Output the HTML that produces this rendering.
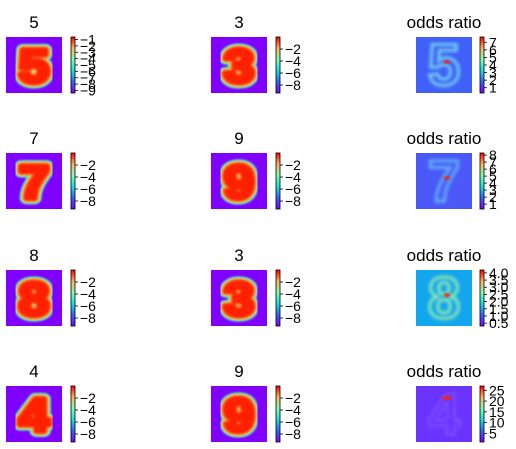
<!DOCTYPE html>
<html><head><meta charset="utf-8">
<style>
body{margin:0;background:#fff;width:516px;height:449px;overflow:hidden;font-family:"Liberation Sans","DejaVu Sans",sans-serif;}
svg{display:block}
</style></head>
<body>
<svg id="fig" width="516" height="449" xmlns="http://www.w3.org/2000/svg">
<defs>
<linearGradient id="rb" x1="0" y1="1" x2="0" y2="0">
<stop offset="0" stop-color="#8000ff"/><stop offset="0.2" stop-color="#3366fa"/>
<stop offset="0.4" stop-color="#19e0e3"/><stop offset="0.6" stop-color="#7ffdb4"/>
<stop offset="0.8" stop-color="#ffb35f"/><stop offset="1" stop-color="#ff0000"/>
</linearGradient>
<filter id="bl"><feGaussianBlur stdDeviation="1.0"/></filter>
<filter id="bl2"><feGaussianBlur stdDeviation="1.6"/></filter>
<clipPath id="cp"><rect x="0" y="0" width="56" height="56"/></clipPath>
</defs>
</svg>
<script>
const rowTop=[37,153,270,386];
const colX=[6,211,416];
const digitTitles=[["5","3"],["7","9"],["8","3"],["4","9"]];
const digitTicks=[[-1,-2,-3,-4,-5,-6,-7,-8,-9],[-2,-4,-6,-8]];
const digitRange=[[-9.4,-0.6],[-9.33,0]];
const oddsTicks=[[7,6,5,4,3,2,1],[8,7,6,5,4,3,2,1],["4.0","3.5","3.0","2.5","2.0","1.5","1.0","0.5"],[25,20,15,10,5]];
const oddsRange=[[0.3,7.7],[0.3,8.3],[0.3,4.2],[1,27]];
const oddsBg=["#4060f8","#4a58f8","#12a6ee","#6a34fe"];
const oddsPat=["#70d0f0","#60b0f5","#90e8b0","#7848fe"];
const svg=document.getElementById('fig');
const NS="http://www.w3.org/2000/svg";
function el(t,a,p){const e=document.createElementNS(NS,t);for(const k in a)e.setAttribute(k,a[k]);(p||svg).appendChild(e);return e;}
const S=56;
function colorbar(x,y,ticks,range){
  const g=el('g',{});
  
  
  el('rect',{x:x,y:y,width:4,height:S,fill:'url(#rb)',stroke:'#000','stroke-width':0.8},g);
  ticks.forEach(t=>{
    const v=parseFloat(t);
    const ty=y+S-(v-range[0])/(range[1]-range[0])*S;
    el('line',{x1:x+4,x2:x+7,y1:ty,y2:ty,stroke:'#000','stroke-width':0.8},g);
    const tx=el('text',{x:x+9,y:ty+5,'font-size':14,fill:'#000'},g);
    tx.textContent=(typeof t==='number'&&t<0)?'\u2212'+(-t):String(t);
    
    
  });
}
rowTop.forEach((y,r)=>{
  for(let c=0;c<2;c++){
    const x=colX[c];
    const t=el('text',{x:x+S/2,y:y-9,'font-size':17,'text-anchor':'middle',fill:'#000'});
    t.textContent=digitTitles[r][c];
    
    
    const g=el('g',{transform:'translate('+x+','+y+')','clip-path':'url(#cp)'});
    
    
    el('rect',{x:0,y:0,width:S,height:S,fill:'#8000ff'},g);
    const inner=el('g',{transform:'translate(28,45) scale(1.15,0.98)'},g);
    [['#40e8d0',12],['#b0f880',10],['#ff9040',8]].forEach(([col,w])=>{
      const d=el('text',{x:0,y:0,'font-size':47,'font-weight':'bold','text-anchor':'middle',fill:col,stroke:col,'stroke-width':w,'stroke-linejoin':'round',filter:'url(#bl)'},inner);
      d.textContent=digitTitles[r][c];
    });
    const d=el('text',{x:0,y:0,'font-size':47,'font-weight':'bold','text-anchor':'middle',fill:'#ff1a00',stroke:'#ff2000','stroke-width':5,'stroke-linejoin':'round',filter:'url(#bl)'},inner);
    d.textContent=digitTitles[r][c];
    colorbar(x+S+9,y,digitTicks[r===0&&c===0?0:1],digitRange[r===0&&c===0?0:1]);
  }
  const x=colX[2];
  const t=el('text',{x:x+S/2,y:y-9,'font-size':17,'text-anchor':'middle',fill:'#000'});
  t.textContent='odds ratio';
  
  
  const g=el('g',{});
  
  
  el('rect',{x:x,y:y,width:S,height:S,fill:oddsBg[r]},g);
  const d=el('text',{x:x+S/2,y:y+S/2+20,'font-size':58,'font-weight':'bold','text-anchor':'middle',fill:'none',stroke:oddsPat[r],'stroke-width':3,filter:'url(#bl2)'},g);
  d.textContent=digitTitles[r][0];
  el('ellipse',{cx:x+S/2+3,cy:y+(r===3?12:S/2-3),rx:r===3?5:3,ry:2,fill:'#ff2000',filter:'url(#bl)'},g);
  colorbar(x+S+8,y,oddsTicks[r],oddsRange[r]);
});
</script>
</body></html>
